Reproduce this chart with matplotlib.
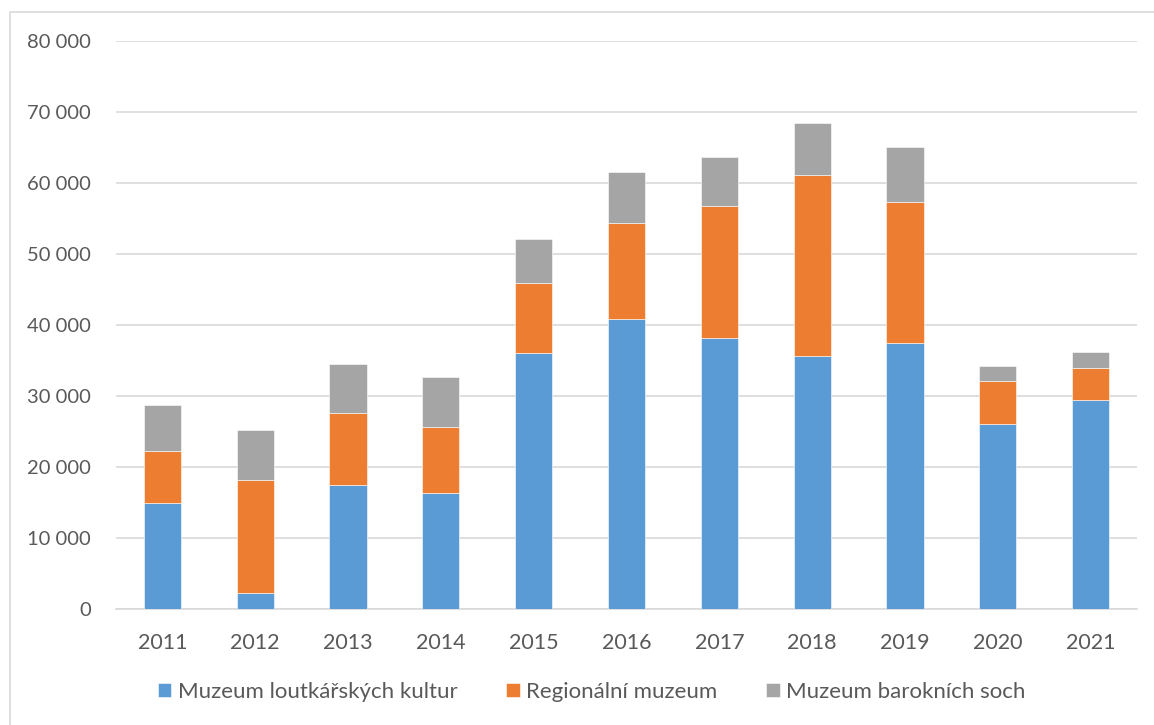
import numpy as np
import matplotlib.pyplot as plt
from matplotlib.patches import Rectangle
from matplotlib.ticker import FuncFormatter

years = ['2011', '2012', '2013', '2014', '2015', '2016', '2017', '2018', '2019', '2020', '2021']
loutkarske = [15000, 2200, 17500, 16300, 36000, 40800, 38100, 35700, 37400, 26100, 29500]
regionalni = [7250, 16000, 10100, 9300, 9850, 13500, 18700, 25400, 19900, 6000, 4450]
barokni = [6550, 6950, 6850, 7050, 6250, 7300, 6900, 7300, 7700, 2100, 2200]
labels = ['Muzeum loutkářských kultur', 'Regionální muzeum', 'Muzeum barokních soch']
colors = ['#5B9BD5', '#ED7D31', '#A5A5A5']

plt.rcParams['font.family'] = ['Lato', 'DejaVu Sans']
text_color = '#595959'

fig = plt.figure(figsize=(11.54, 7.25), dpi=100)
fig.patches.append(Rectangle((10 / 1154, -0.01), 1.02, (725 - 12) / 725 + 0.01,
                             transform=fig.transFigure, fill=False,
                             edgecolor='#D9D9D9', linewidth=1.2))
ax = fig.add_axes([116 / 1154, 116 / 725, (1137 - 116) / 1154, (609 - 41) / 725])

x = np.arange(len(years))
bottom = np.zeros(len(years))
for vals, lab, col in zip([loutkarske, regionalni, barokni], labels, colors):
    ax.bar(x, vals, 0.4, bottom=bottom, color=col, label=lab,
           edgecolor='white', linewidth=0.4, zorder=3)
    bottom += np.array(vals)

ax.set_xlim(-0.5, len(years) - 0.5)
ax.set_ylim(0, 80000)
ax.set_yticks(np.arange(0, 80001, 10000))
ax.yaxis.set_major_formatter(FuncFormatter(lambda v, p: f'{int(v):,}'.replace(',', ' ')))
ax.set_xticks(x)
ax.set_xticklabels(years)
ax.grid(axis='y', color='#D9D9D9', linewidth=1.2, zorder=0)
for s in ['top', 'right', 'left']:
    ax.spines[s].set_visible(False)
ax.spines['bottom'].set_color('#D9D9D9')
ax.spines['bottom'].set_linewidth(1.2)
ax.tick_params(axis='both', length=0, colors=text_color)
ax.tick_params(axis='y', pad=18, labelsize=14.5)
ax.tick_params(axis='x', pad=17, labelsize=15.5)

leg = ax.legend(loc='center', bbox_to_anchor=(0.466, -0.146), ncol=3, frameon=False,
                fontsize=16, handlelength=0.6, handleheight=0.6,
                columnspacing=2.2, handletextpad=0.3)
for t in leg.get_texts():
    t.set_color(text_color)

fig.savefig('out.png', dpi=100)
